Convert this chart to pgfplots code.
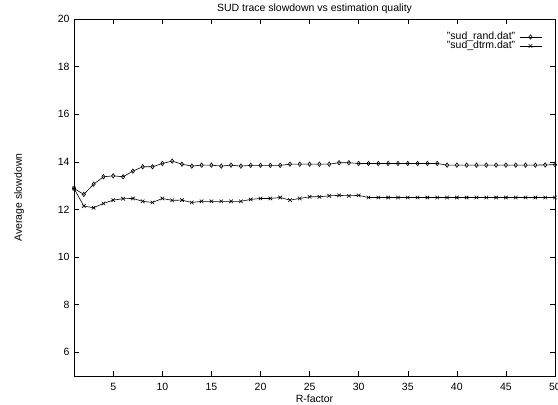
\documentclass[border=0pt]{standalone}
\usepackage{pgfplots}
\pgfplotsset{compat=1.18}
\usepackage{fontspec}
\setmainfont{Liberation Sans}
\begin{document}
\begin{tikzpicture}
\path[use as bounding box] (-74pt,-29pt) rectangle (484pt,376pt);
\begin{axis}[
  scale only axis, width=481pt, height=357pt,
  at={(0pt,0pt)}, anchor=south west,
  xmin=1, xmax=50, ymin=5, ymax=20,
  xtick={5,10,...,50}, ytick={6,8,...,20},
  font=\fontsize{10.5}{12}\selectfont,
  /pgf/number format/assume math mode=true,
  tick style={black, line width=0.5pt}, major tick length=5pt,
  axis line style={line width=0.6pt},
  title={SUD trace slowdown vs estimation quality},
  title style={at={(axis description cs:0.5,1)}, anchor=base, yshift=1.5pt},
  xlabel={R-factor}, ylabel={Average slowdown},
  xlabel style={at={(axis description cs:0.5,0)}, anchor=base, yshift=-27pt},
  ylabel style={at={(axis description cs:-0.114,0.5)}, anchor=center, rotate=0},
  xticklabel style={anchor=base, yshift=-15pt},
  yticklabel style={xshift=-1pt},
  legend style={draw=none, fill=none, at={(axis description cs:0.973,0.962)}, anchor=north east, inner sep=0pt,
    nodes={inner ysep=0pt, inner xsep=4pt, text height=6.5pt, text depth=2pt}, row sep=0.5pt},
  legend cell align=right, legend plot pos=right,
  legend image code/.code={\draw[#1] (0pt,0pt) -- (22pt,0pt); \draw[#1, only marks] plot coordinates {(11pt,0pt)};},
]
\addplot[black, line width=0.6pt, mark=diamond, mark size=2.2pt, mark options={solid, fill=gray!60}] coordinates {
(1,12.88)(2,12.63)(3,13.06)(4,13.37)(5,13.41)(6,13.37)(7,13.61)(8,13.79)(9,13.79)(10,13.93)
(11,14.03)(12,13.90)(13,13.82)(14,13.86)(15,13.86)(16,13.82)(17,13.86)(18,13.82)(19,13.85)(20,13.85)
(21,13.85)(22,13.85)(23,13.90)(24,13.90)(25,13.90)(26,13.90)(27,13.90)(28,13.96)(29,13.96)(30,13.93)
(31,13.93)(32,13.93)(33,13.93)(34,13.93)(35,13.93)(36,13.93)(37,13.93)(38,13.93)(39,13.86)(40,13.86)
(41,13.86)(42,13.86)(43,13.86)(44,13.86)(45,13.86)(46,13.86)(47,13.86)(48,13.86)(49,13.87)(50,13.88)
};
\addlegendentry{"sud\_rand.dat"}
\addplot[black, line width=0.6pt, mark=x, mark size=2.5pt, mark options={solid}] coordinates {
(1,12.88)(2,12.14)(3,12.07)(4,12.25)(5,12.39)(6,12.45)(7,12.46)(8,12.34)(9,12.29)(10,12.46)
(11,12.38)(12,12.39)(13,12.29)(14,12.34)(15,12.34)(16,12.34)(17,12.34)(18,12.34)(19,12.42)(20,12.46)
(21,12.46)(22,12.50)(23,12.39)(24,12.46)(25,12.53)(26,12.53)(27,12.57)(28,12.59)(29,12.57)(30,12.59)
(31,12.50)(32,12.50)(33,12.50)(34,12.50)(35,12.50)(36,12.50)(37,12.50)(38,12.50)(39,12.50)(40,12.50)
(41,12.50)(42,12.50)(43,12.50)(44,12.50)(45,12.50)(46,12.50)(47,12.50)(48,12.50)(49,12.50)(50,12.50)
};
\addlegendentry{"sud\_dtrm.dat"}
\end{axis}
\end{tikzpicture}
\end{document}
